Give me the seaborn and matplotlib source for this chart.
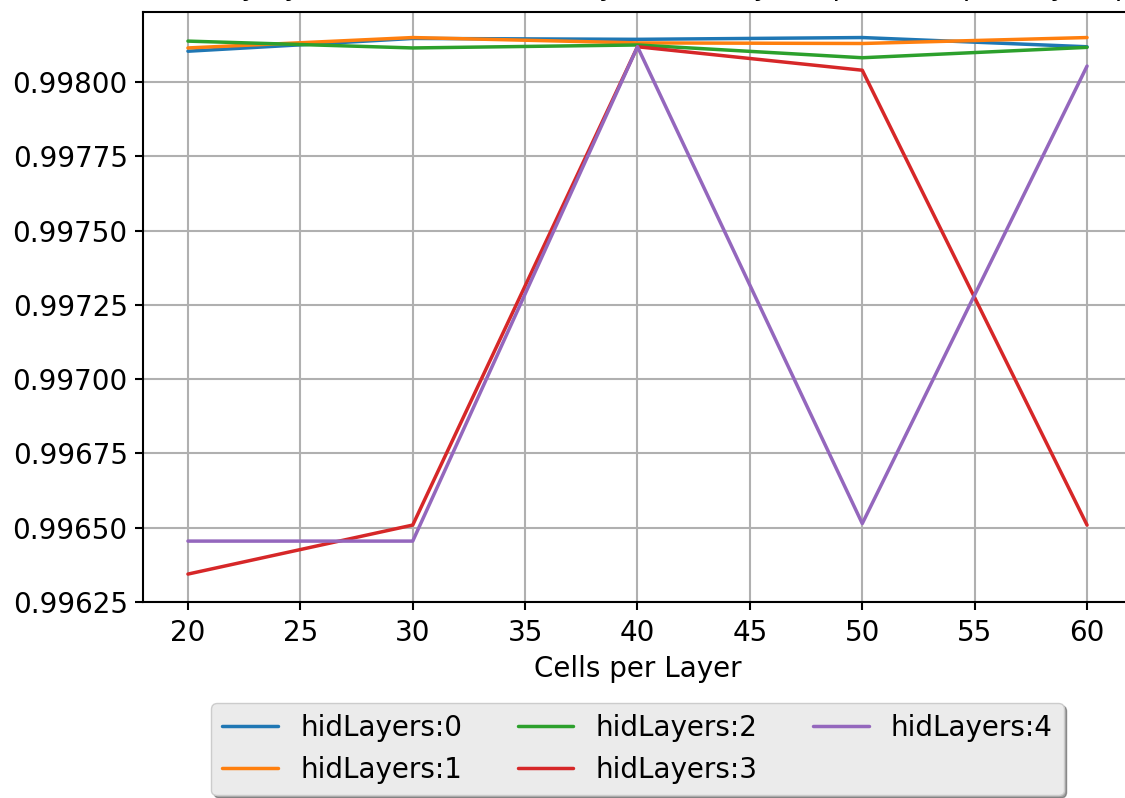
import matplotlib
matplotlib.use("Agg")
import matplotlib.pyplot as plt
import seaborn as sns
import pandas as pd
from matplotlib.ticker import ScalarFormatter

# ---- data ----
cells = [20, 30, 40, 50, 60]
acc_h0 = [0.998104, 0.998147, 0.998144, 0.998150, 0.998119]
acc_h1 = [0.998115, 0.998150, 0.998132, 0.998130, 0.998150]
acc_h2 = [0.998138, 0.998115, 0.998125, 0.998082, 0.998117]
acc_h3 = [0.996344, 0.996509, 0.998119, 0.998040, 0.996509]
acc_h4 = [0.996455, 0.996455, 0.998119, 0.996514, 0.998054]
series_names = ["hidLayers:0", "hidLayers:1", "hidLayers:2", "hidLayers:3", "hidLayers:4"]
title_text = "Accuracy by number of hidden Layers (hidLayers) per Cells per Layer (p)"
xlabel_text = "Cells per Layer"

series = [acc_h0, acc_h1, acc_h2, acc_h3, acc_h4]
rows = []
for name, vals in zip(series_names, series):
    for c, v in zip(cells, vals):
        rows.append({"cells": c, "acc": v, "series": name})
df = pd.DataFrame(rows)

FS = 20
sns.set_style("white")
plt.rcParams.update({
    "font.family": ["DejaVu Sans"],
    "font.size": FS,
    "text.color": "black",
    "axes.labelcolor": "black",
    "axes.edgecolor": "black",
    "axes.linewidth": 1.5,
    "grid.color": "#b0b0b0",
    "grid.linewidth": 1.5,
    "xtick.major.width": 1.5,
    "ytick.major.width": 1.5,
    "xtick.major.size": 6,
    "ytick.major.size": 6,
    "xtick.major.pad": 6,
    "ytick.major.pad": 5,
    "xtick.color": "black",
    "ytick.color": "black",
    "xtick.bottom": True,
    "ytick.left": True,
})

fig = plt.figure(figsize=(11.25, 7.98), dpi=100)
W, H = 1125, 798
ax = fig.add_axes([143 / W, (H - 602) / H, (1132 - 143) / W, 590 / H])

palette = sns.color_palette("tab10", 5)
sns.lineplot(data=df, x="cells", y="acc", hue="series", palette=palette,
             linewidth=2.5, ax=ax, legend=True)

ax.grid(True)
ax.set_axisbelow(True)
ax.set_ylim(0.99625, 0.998236)
ax.set_xlim(18, 62)
ax.spines["right"].set_visible(False)
fmt = ScalarFormatter(useOffset=False)
ax.yaxis.set_major_formatter(fmt)
ax.tick_params(labelsize=FS)
ax.set_xlabel(xlabel_text, fontsize=FS, labelpad=6)
ax.set_ylabel("")
ax.set_title(title_text, fontsize=FS, pad=12)

handles, labels = ax.get_legend_handles_labels()
ax.get_legend().remove()
leg = fig.legend(handles, labels, loc="upper center",
                 bbox_to_anchor=(637.5 / W, 1 - 703 / H), bbox_transform=fig.transFigure,
                 ncol=3, shadow=True, fancybox=True, fontsize=FS, borderaxespad=0,
                 facecolor="#ebebeb", edgecolor="#cccccc", framealpha=1)

fig.savefig("out.png", dpi=100)
